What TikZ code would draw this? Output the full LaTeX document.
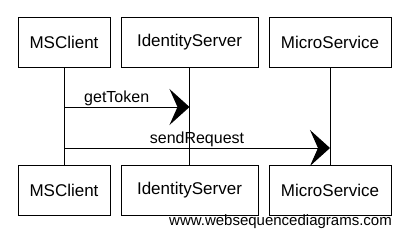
\documentclass[tikz,border=0pt]{standalone}
\usepackage{fontspec}
\setmainfont{Liberation Sans}
\usetikzlibrary{arrows.meta,positioning}
\tikzstyle{actor} = [rectangle, minimum height=50pt, inner sep=0pt, text centered, draw=black, line width=1pt, font=\fontsize{17}{20}\selectfont]
\tikzstyle{lifeline} = [line width=0.8pt]
\tikzstyle{message} = [line width=1pt, -{Stealth[length=20pt,width=36pt,inset=8pt]}]
\tikzstyle{msglabel} = [font=\fontsize{16}{19}\selectfont, above, inner sep=1pt]

\begin{document}
\begin{tikzpicture}[x=1pt, y=-1pt]
  \useasboundingbox (0,0) rectangle (407,242);
  % top row
  \node (msc1)[actor, minimum width=92pt] at (64,42){MSClient};
  \node (ids1)[actor, minimum width=137pt] at (189.5,42){IdentityServer};
  \node (mis1)[actor, minimum width=122pt] at (330,42){MicroService};
  % bottom row
  \node (msc2)[actor, minimum width=92pt] at (64,190){MSClient};
  \node (ids2)[actor, minimum width=137pt] at (189.5,190){IdentityServer};
  \node (mis2)[actor, minimum width=122pt] at (330,190){MicroService};
  \draw [lifeline] {(msc1)--(msc2)};
  \draw [lifeline] {(ids1)--(ids2)};
  \draw [lifeline] {(mis1)--(mis2)};
  % messages
  \coordinate (tok1) at (msc1 |- 0,107);
  \coordinate (tok2) at (ids1 |- 0,107);
  \coordinate (req1) at (msc1 |- 0,148);
  \coordinate (req2) at (mis1 |- 0,148);
  \draw [message] (tok1) -- node (toklbl)[msglabel, pos=0.42]{getToken} (tok2);
  \draw [message] (req1) -- node (reqlbl)[msglabel, pos=0.5]{sendRequest} (req2);
  \node (wsd)[anchor=east, font=\fontsize{15}{18}\selectfont, inner sep=0pt] at (392,222){www.websequencediagrams.com};
\end{tikzpicture}
\end{document}
